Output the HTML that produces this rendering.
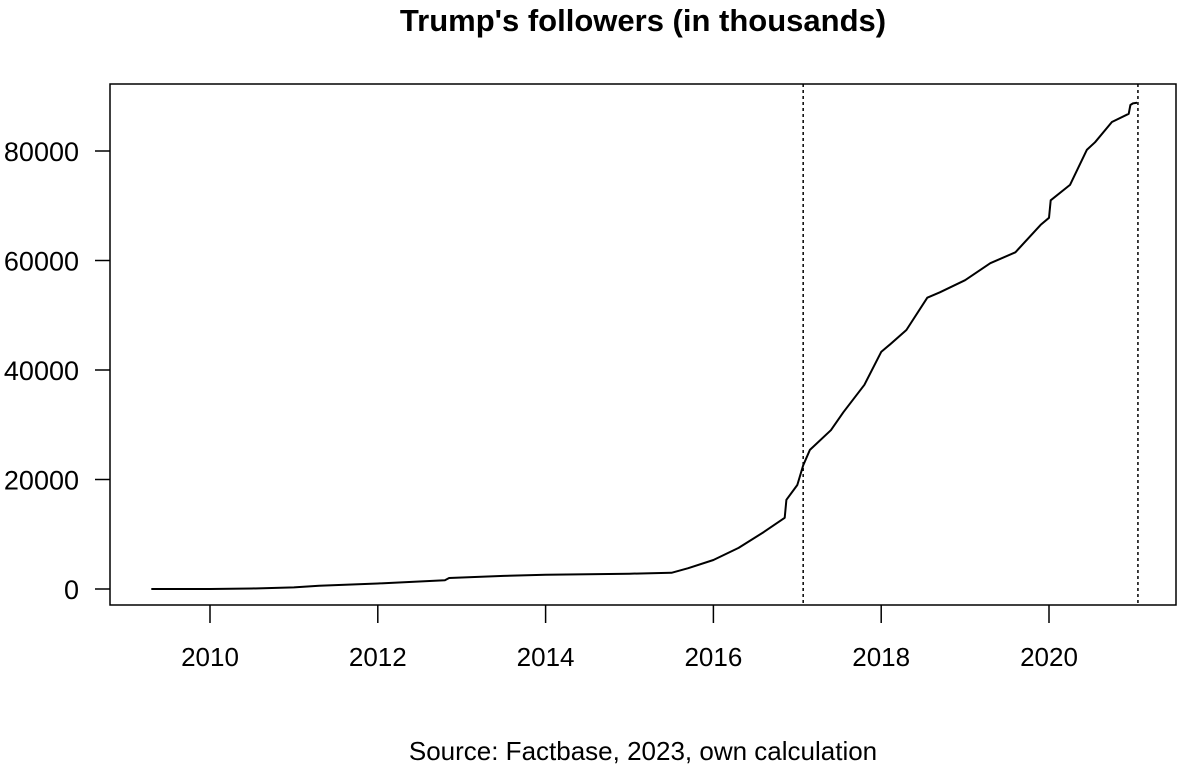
<!DOCTYPE html>
<html><head><meta charset="utf-8"><style>
body{margin:0;background:#fff;}
svg text{font-family:"Liberation Sans",Arial,sans-serif;fill:#000;}
</style></head><body>
<svg id="chart" width="1181" height="771" viewBox="0 0 1181 771" xmlns="http://www.w3.org/2000/svg">
<text x="643" y="31" font-size="31" font-weight="bold" text-anchor="middle">Trump's followers (in thousands)</text>
<rect x="110" y="84" width="1066" height="521" fill="none" stroke="#000" stroke-width="1.5"/>
<g id="axes"></g>
<g id="series"></g>
<text x="643" y="760" font-size="26" text-anchor="middle">Source: Factbase, 2023, own calculation</text>
</svg>
<script>
const years = [2009.3,2010.0,2010.5,2011.0,2011.3,2012.0,2012.8,2012.85,2013.5,2014.0,2015.0,2015.5,2015.7,2016.0,2016.3,2016.6,2016.85,2016.87,2017.0,2017.07,2017.15,2017.4,2017.55,2017.8,2018.0,2018.1,2018.3,2018.55,2018.7,2019.0,2019.3,2019.6,2019.9,2020.0,2020.02,2020.25,2020.45,2020.55,2020.75,2020.95,2020.97,2021.0,2021.05];
const followers = [0,0,100,300,600,1000,1600,2000,2400,2600,2800,2950,3800,5300,7500,10400,13000,16300,19000,22600,25400,29000,32300,37300,43300,44600,47300,53200,54200,56400,59500,61500,66500,67800,71000,73800,80200,81600,85300,86800,88400,88700,88800];
const yTicks = [0,20000,40000,60000,80000];
const xTicks = [2010,2012,2014,2016,2018,2020];
const eventYears = [2017.07,2021.06];

const NS = "http://www.w3.org/2000/svg";
const xs = y => 210 + (y - 2010) * 83.9;
const ys = v => 589 - v / 20000 * 109.5;
function mk(tag, attrs, parent){const e=document.createElementNS(NS,tag);for(const k in attrs)e.setAttribute(k,attrs[k]);parent.appendChild(e);return e;}
const axes=document.getElementById('axes'), series=document.getElementById('series');

yTicks.forEach(t=>{
  const l=mk('line',{x1:95,x2:110,y1:ys(t),y2:ys(t),stroke:'#000','stroke-width':1.5},axes);
  
  
  const tx=mk('text',{x:79,y:ys(t)+10,'font-size':27,'text-anchor':'end'},axes);
  tx.textContent=t;
  
  
});
xTicks.forEach(t=>{
  const l=mk('line',{x1:xs(t),x2:xs(t),y1:605,y2:623,stroke:'#000','stroke-width':1.5},axes);
  
  
  const tx=mk('text',{x:xs(t),y:666,'font-size':26,'text-anchor':'middle'},axes);
  tx.textContent=t;
  
  
});
eventYears.forEach(t=>{
  const l=mk('line',{x1:xs(t),x2:xs(t),y1:84,y2:605,stroke:'#000','stroke-width':1.5,'stroke-dasharray':'3,3'},series);
  
  
});
const d=years.map((y,i)=>(i?'L':'M')+xs(y).toFixed(1)+','+ys(followers[i]).toFixed(1)).join(' ');
const p=mk('path',{d:d,fill:'none',stroke:'#000','stroke-width':2,'stroke-linejoin':'round'},series);


</script>
</body></html>
